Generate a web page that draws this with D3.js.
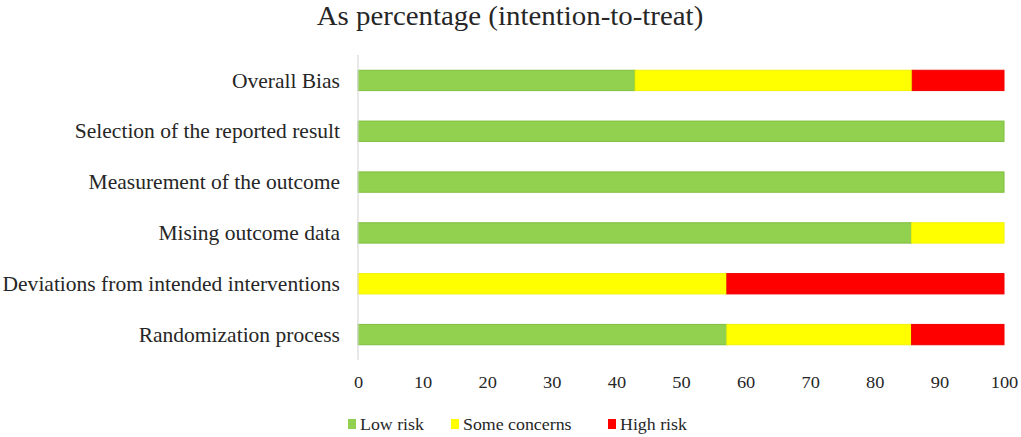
<!DOCTYPE html>
<html>
<head>
<meta charset="utf-8">
<script src="https://cdn.jsdelivr.net/npm/d3@7"></script>
<style>
  body { margin: 0; background: #fff; }
  text { font-family: "Liberation Serif", "Times New Roman", serif; fill: #262626; }
</style>
</head>
<body>
<svg id="chart" width="1021" height="437"></svg>
<script>
// --- data (percent of studies) ---
const domains = [
  "Overall Bias",
  "Selection of the reported result",
  "Measurement of the outcome",
  "Mising outcome data",
  "Deviations from intended interventions",
  "Randomization process"
];
const lowRisk      = [42.9, 100, 100, 85.7, 0,    57.1];
const someConcerns = [42.9, 0,   0,   14.3, 57.1, 28.6];
const highRisk     = [14.2, 0,   0,   0,    42.9, 14.3];
const seriesNames = ["Low risk", "Some concerns", "High risk"];
const xTicks = [0, 10, 20, 30, 40, 50, 60, 70, 80, 90, 100];

const colors = { "Low risk": "#92D050", "Some concerns": "#FFFF00", "High risk": "#FF0000" };
const strokes = { "Low risk": "#7DBE3C", "Some concerns": "#F2F200", "High risk": "#F00000" };
const stretch = 1.05; // source glyphs are a bit wider than Liberation Serif

const svg = d3.select("#chart");
const margin = { top: 55, right: 17, bottom: 77, left: 358 };
const W = 1021, H = 437;
const innerW = W - margin.left - margin.right;
const innerH = H - margin.top - margin.bottom;

const rows = domains.map((d, i) => ({
  domain: d,
  "Low risk": lowRisk[i],
  "Some concerns": someConcerns[i],
  "High risk": highRisk[i]
}));
const stacked = d3.stack().keys(seriesNames)(rows);

const x = d3.scaleLinear().domain([0, 100]).range([0, innerW]);
const y = d3.scaleBand().domain(domains).range([0, innerH]).paddingInner(0.6).paddingOuter(0.3);

const g = svg.append("g").attr("transform", `translate(${margin.left},${margin.top})`);

// title
svg.append("text")
  .attr("transform", `translate(510,25) scale(1.07,1)`)
  .attr("text-anchor", "middle")
  .attr("font-size", 27)
  .text("As percentage (intention-to-treat)");

// bars
g.selectAll("g.series")
  .data(stacked)
  .join("g")
  .attr("class", "series")
  .attr("fill", d => colors[d.key])
  .attr("stroke", d => strokes[d.key])
  .selectAll("rect")
  .data(d => d.filter(s => s[1] - s[0] > 0))
  .join("rect")
  .attr("x", d => x(d[0]))
  .attr("y", d => y(d.data.domain))
  .attr("width", d => x(d[1]) - x(d[0]))
  .attr("height", y.bandwidth())
  .attr("stroke-width", 1);

// y axis line
g.append("line")
  .attr("x1", 0).attr("x2", 0)
  .attr("y1", 0).attr("y2", innerH)
  .attr("stroke", "#d9d9d9").attr("stroke-width", 1.2);

// category labels
g.selectAll("text.cat")
  .data(domains)
  .join("text")
  .attr("class", "cat")
  .attr("transform", d => `translate(-18,${y(d) + y.bandwidth() / 2}) scale(${stretch},1)`)
  .attr("dy", "0.35em")
  .attr("text-anchor", "end")
  .attr("font-size", 20.5)
  .text(d => d);

// x tick labels
const xAxis = g.append("g")
  .attr("transform", `translate(0,${innerH})`)
  .call(d3.axisBottom(x).tickValues(xTicks).tickSize(0).tickPadding(16));
xAxis.select(".domain").remove();
xAxis.selectAll("text")
  .attr("font-size", 17.5)
  .attr("font-family", "Liberation Serif, serif")
  .attr("fill", "#262626")
  .attr("transform", `scale(${stretch},1)`);

// legend
const legendX = [348, 451, 608];
const legend = svg.append("g").attr("transform", `translate(0,430)`);
seriesNames.forEach((s, i) => {
  legend.append("rect")
    .attr("x", legendX[i]).attr("y", -11)
    .attr("width", 8).attr("height", 10)
    .attr("fill", colors[s]);
  legend.append("text")
    .attr("transform", `translate(${legendX[i] + 12},0) scale(${stretch},1)`)
    .attr("font-size", 17)
    .text(s);
});
</script>
</body>
</html>
